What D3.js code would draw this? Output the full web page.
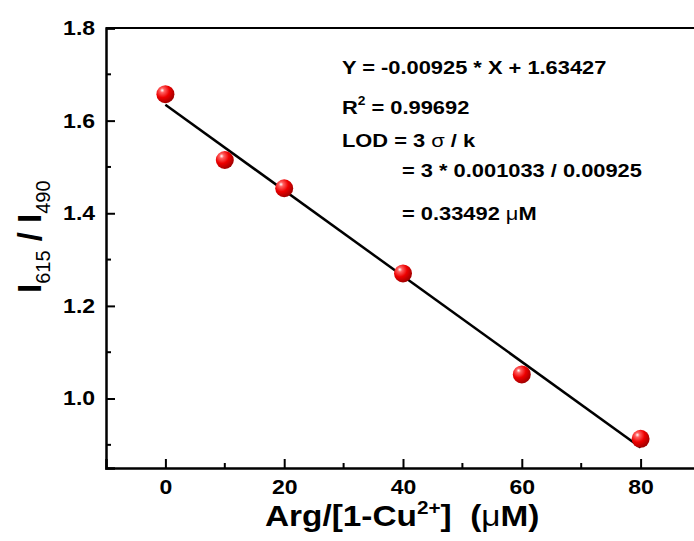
<html>
<script src="https://d3js.org/d3.v7.min.js"></script>
<style>
    body { margin: 0; background: #fff; }
    text { font-family: "Liberation Sans", Arial, sans-serif; font-weight: bold; fill: #000; }
</style>
<body>
<svg id="chart" width=694 height=541></svg>
<script>
// measured points
var concs = [0, 10, 20, 40, 60, 80];
var ratios = [1.657, 1.515, 1.454, 1.270, 1.052, 0.913];
// linear fit
var slope = -0.00925, intercept = 1.63427;
var xTicks = [0, 20, 40, 60, 80];
var yTicks = [1.0, 1.2, 1.4, 1.6, 1.8];
var xMinor = [10, 30, 50, 70];
var yMinor = [0.9, 1.1, 1.3, 1.5, 1.7];

var SX = 1.15; // the original figure is a bit wider than tall

var svg = d3.select("#chart");
var x = d3.scaleLinear().domain([-10, 90]).range([106, 700]);
var y = d3.scaleLinear().domain([0.85, 1.8]).range([468, 28]);

// sphere gradient
var grad = svg.append("defs").append("radialGradient")
    .attr("id", "ball").attr("cx", "35%").attr("cy", "32%").attr("r", "70%")
    .attr("fx", "32%").attr("fy", "28%");
grad.append("stop").attr("offset", "0%").attr("stop-color", "#ffffff");
grad.append("stop").attr("offset", "18%").attr("stop-color", "#ff6060");
grad.append("stop").attr("offset", "55%").attr("stop-color", "#ee0000");
grad.append("stop").attr("offset", "100%").attr("stop-color", "#a00000");

// text placed at x,y and stretched horizontally
function label(x0, y0, size) {
    return svg.append("g").attr("transform", "translate(" + x0 + "," + y0 + ") scale(" + SX + ",1)")
        .append("text").style("font-size", size + "px");
}

// axes
var xAxis = d3.axisBottom(x).tickValues(xTicks).tickSize(-9).tickPadding(12).tickFormat(d3.format("d"));
var yAxis = d3.axisLeft(y).tickValues(yTicks).tickSize(-9).tickPadding(9.5).tickFormat(d3.format(".1f"));

var gx = svg.append("g").attr("transform", "translate(0," + y(0.85) + ")").call(xAxis);
var gy = svg.append("g").attr("transform", "translate(" + x(-10) + ",0)").call(yAxis);

// minor ticks
svg.append("g").selectAll("line").data(xMinor).enter().append("line")
    .attr("x1", function(d) { return x(d); }).attr("x2", function(d) { return x(d); })
    .attr("y1", y(0.85)).attr("y2", y(0.85) - 5)
    .attr("stroke", "#000").attr("stroke-width", 2);
svg.append("g").selectAll("line").data(yMinor).enter().append("line")
    .attr("y1", function(d) { return y(d); }).attr("y2", function(d) { return y(d); })
    .attr("x1", x(-10)).attr("x2", x(-10) + 5)
    .attr("stroke", "#000").attr("stroke-width", 2);

// top frame
svg.append("line").attr("x1", x(-10)).attr("x2", x(90)).attr("y1", y(1.8)).attr("y2", y(1.8))
    .attr("stroke", "#000").attr("stroke-width", 2);

[gx, gy].forEach(function(g) {
    g.select(".domain").attr("stroke-width", 2.5);
    g.selectAll(".tick line").attr("stroke-width", 2);
    g.selectAll(".tick text")
        .style("font-size", "20px").style("font-family", "Liberation Sans, Arial").style("font-weight", "bold")
        .attr("transform", "scale(" + SX + ",1)");
});

// fit line
svg.append("line")
    .attr("x1", x(0)).attr("y1", y(intercept))
    .attr("x2", x(80)).attr("y2", y(intercept + slope * 80))
    .attr("stroke", "#000").attr("stroke-width", 2.5);

// points
svg.append("g").selectAll("circle").data(concs).enter().append("circle")
    .attr("cx", function(d) { return x(d); })
    .attr("cy", function(d, i) { return y(ratios[i]); })
    .attr("r", 9)
    .attr("fill", "url(#ball)");

// annotation
label(342, 74, 19).text("Y = -0.00925 * X + 1.63427");
var r2 = label(342, 114, 19);
r2.append("tspan").text("R");
r2.append("tspan").attr("dy", -9).style("font-size", "12px").text("2");
r2.append("tspan").attr("dy", 9).text(" = 0.99692");
var lod = label(342, 147, 19);
lod.append("tspan").text("LOD = 3 ");
lod.append("tspan").style("font-weight", "normal").text("σ");
lod.append("tspan").text(" / k");
label(402, 177, 19).text("= 3 * 0.001033 / 0.00925");
var res = label(402, 220, 19);
res.append("tspan").text("= 0.33492 ");
res.append("tspan").style("font-weight", "normal").text("μ");
res.append("tspan").text("M");

// axis titles
var xt = label(265, 526, 29);
xt.append("tspan").text("Arg/[1-Cu");
xt.append("tspan").attr("dy", -12).style("font-size", "18px").text("2+");
xt.append("tspan").attr("dy", 12).text("]\u00a0\u00a0(");
xt.append("tspan").style("font-weight", "normal").text("μ");
xt.append("tspan").text("M)");

var yt = svg.append("text").attr("transform", "translate(41,293) rotate(-90)").style("font-size", "33px");
yt.append("tspan").text("I");
yt.append("tspan").attr("dy", 9).style("font-size", "20px").style("font-weight", "normal").text("615");
yt.append("tspan").attr("dy", -9).text(" / I");
yt.append("tspan").attr("dy", 9).style("font-size", "20px").style("font-weight", "normal").text("490");
</script>
</body>
</html>
